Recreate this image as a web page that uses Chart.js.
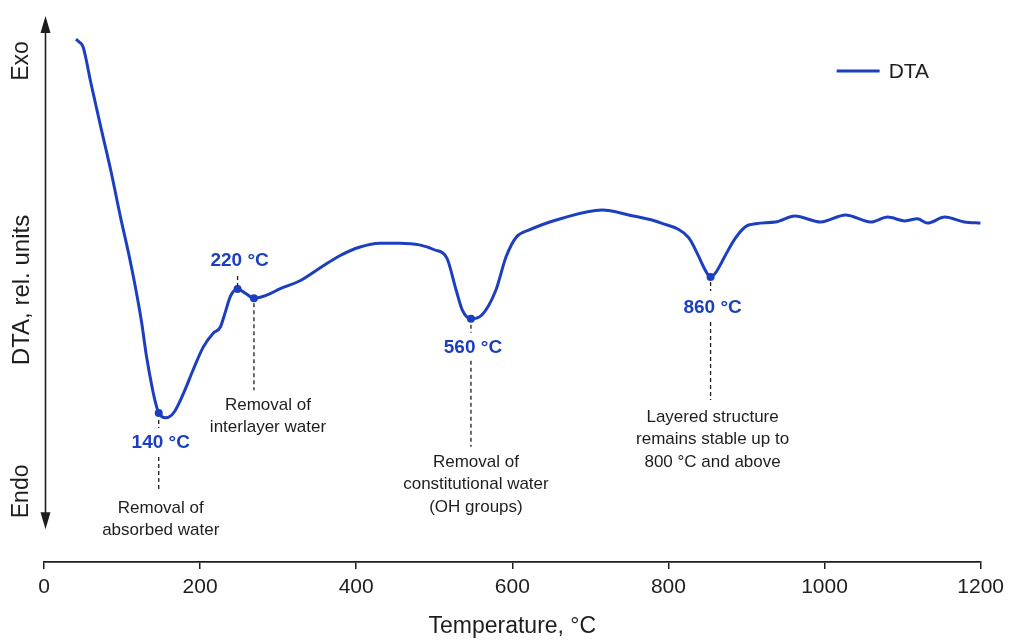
<!DOCTYPE html>
<html>
<head>
<meta charset="utf-8">
<script src="https://cdn.jsdelivr.net/npm/chart.js@4.4.1/dist/chart.umd.min.js"></script>
<style>
  html, body { margin: 0; padding: 0; background: #ffffff; }
  #wrap { width: 1010px; height: 640px; position: relative; }
</style>
</head>
<body>
<div id="wrap"><canvas id="c"></canvas></div>
<script>
// ---- data ----
const temps = [41,45,50,60,73,86,98,108,117,125,131,138,143,147,156,166,179,191,204,
  217,226,232,239,248,258,269,286,302,328,353,379,405,430,456,481,500,516,528,536,
  547,561,579,592,605,621,664,715,749,791,826,838,847,854,861,873,886,902,937,962,
  995,1027,1059,1081,1103,1119,1132,1154,1179,1200];
const dta = [96.1,95.6,94.7,88.1,79.8,71.7,63.4,57.0,50.6,44.1,38.1,32.5,29.2,27.4,26.5,27.4,31.1,35.3,39.5,
  42.1,43.2,45.8,48.9,50.2,49.4,48.5,49.1,50.2,51.7,54.0,56.3,57.9,58.6,58.6,58.3,57.4,55.9,50.0,46.3,
  44.7,45.4,50.0,56.1,59.7,61.0,63.2,64.7,63.8,62.3,59.6,56.4,53.7,52.4,53.3,56.4,59.6,61.9,62.5,63.6,
  62.5,63.8,62.5,63.4,62.7,63.1,62.3,63.4,62.5,62.3];
const markTemps = [147, 248, 269, 547, 854];
const markValues = [27.4, 50.2, 48.5, 44.7, 52.4];
const markLabels = ['140 °C', '220 °C', '', '560 °C', '860 °C'];
const markNotes = [
  ['Removal of', 'absorbed water'],
  [],
  ['Removal of', 'interlayer water'],
  ['Removal of', 'constitutional water', '(OH groups)'],
  ['Layered structure', 'remains stable up to', '800 °C and above']
];
const xTickValues = [0, 200, 400, 600, 800, 1000, 1200];
const seriesName = 'DTA';
const yTitle = 'DTA, rel. units';
const xTitle = 'Temperature, °C';
const exoLabel = 'Exo';
const endoLabel = 'Endo';

// ---- style ----
const BLUE = '#1c3fc0';
const INK = '#1e1e1e';
const FONT = '"Liberation Sans", Arial, Helvetica, sans-serif';

// layout of each annotation relative to its marker (pixels)
const annoLayout = [
  { labelDy: 30, dashes: [[7, 15], [44, 79]], noteDy: 95, noteDx: 2 },
  { labelDy: -28, dashes: [[-13, -3]], noteDy: 0, noteDx: 0 },
  { labelDy: 0, dashes: [[5, 92]], noteDy: 107, noteDx: 14 },
  { labelDy: 29, dashes: [[6, 14], [42, 128]], noteDy: 143, noteDx: 5 },
  { labelDy: 31, dashes: [[5, 14], [45, 123]], noteDy: 140, noteDx: 2 }
];

const decor = {
  id: 'decor',
  afterDatasetsDraw(chart) {
    const { ctx, chartArea, scales } = chart;
    const xs = scales.x, ys = scales.y;
    ctx.save();

    // y arrow
    const ax = chartArea.left + 1.5;
    const topY = chartArea.top - 2;
    const botY = ys.getPixelForValue(6);
    ctx.strokeStyle = INK; ctx.fillStyle = INK; ctx.lineWidth = 1.6;
    ctx.beginPath(); ctx.moveTo(ax, topY + 8); ctx.lineTo(ax, botY - 8); ctx.stroke();
    ctx.beginPath(); ctx.moveTo(ax, topY); ctx.lineTo(ax - 5, topY + 17); ctx.lineTo(ax + 5, topY + 17); ctx.closePath(); ctx.fill();
    ctx.beginPath(); ctx.moveTo(ax, botY); ctx.lineTo(ax - 5, botY - 17); ctx.lineTo(ax + 5, botY - 17); ctx.closePath(); ctx.fill();

    // y texts
    ctx.textAlign = 'center'; ctx.textBaseline = 'middle';
    const tx = 22;
    [[exoLabel, chartArea.top + 43, 23], [yTitle, chartArea.top + 272, 24], [endoLabel, botY - 38, 23]].forEach(([t, y, fs]) => {
      ctx.font = fs + 'px ' + FONT;
      ctx.save(); ctx.translate(tx, y); ctx.rotate(-Math.PI / 2); ctx.fillText(t, 0, 0); ctx.restore();
    });

    // annotations
    markTemps.forEach((t, i) => {
      const px = xs.getPixelForValue(t);
      const py = ys.getPixelForValue(markValues[i]);
      const L = annoLayout[i];
      ctx.strokeStyle = INK; ctx.lineWidth = 1.3; ctx.setLineDash([4, 3]);
      L.dashes.forEach(([a, b]) => {
        ctx.beginPath(); ctx.moveTo(px, py + a); ctx.lineTo(px, py + b); ctx.stroke();
      });
      ctx.setLineDash([]);
      if (markLabels[i]) {
        ctx.fillStyle = BLUE; ctx.font = 'bold 19px ' + FONT;
        ctx.textAlign = 'center'; ctx.textBaseline = 'middle';
        ctx.fillText(markLabels[i], px + 2, py + L.labelDy);
      }
      ctx.fillStyle = INK; ctx.font = '17px ' + FONT;
      ctx.textAlign = 'center'; ctx.textBaseline = 'middle';
      markNotes[i].forEach((line, k) => {
        ctx.fillText(line, px + L.noteDx, py + L.noteDy + k * 22.5);
      });
    });

    // legend
    const ds = chart.data.datasets[0];
    const lx = chartArea.right - 144, ly = chartArea.top + 53;
    ctx.strokeStyle = ds.borderColor; ctx.lineWidth = 3;
    ctx.beginPath(); ctx.moveTo(lx, ly); ctx.lineTo(lx + 43, ly); ctx.stroke();
    ctx.fillStyle = INK; ctx.font = '21px ' + FONT;
    ctx.textAlign = 'left'; ctx.textBaseline = 'middle';
    ctx.fillText(ds.label, lx + 52, ly + 1);
    ctx.restore();
  }
};

new Chart(document.getElementById('c'), {
  type: 'line',
  data: {
    datasets: [
      {
        label: seriesName,
        data: temps.map((t, i) => ({ x: t, y: dta[i] })),
        borderColor: BLUE,
        borderWidth: 3,
        pointRadius: 0,
        fill: false,
        cubicInterpolationMode: 'monotone'
      },
      {
        label: 'markers',
        data: markTemps.map((t, i) => ({ x: t, y: markValues[i] })),
        showLine: false,
        pointRadius: 4,
        pointBackgroundColor: BLUE,
        pointBorderColor: BLUE,
        pointBorderWidth: 0
      }
    ]
  },
  options: {
    responsive: true,
    maintainAspectRatio: false,
    devicePixelRatio: 1,
    animation: false,
    layout: { padding: { left: 44, right: 27, top: 18, bottom: 0 } },
    plugins: { legend: { display: false }, tooltip: { enabled: false } },
    scales: {
      x: {
        type: 'linear', min: 0, max: 1200,
        afterBuildTicks: (s) => { s.ticks = xTickValues.map(v => ({ value: v })); },
        afterFit: (s) => { s.height = 78; },
        ticks: {
          callback: (v) => String(v),
          color: INK, font: { size: 21, family: FONT }, padding: 6, maxRotation: 0
        },
        grid: { display: true, drawOnChartArea: false, drawTicks: true, tickLength: 7, color: INK, lineWidth: 1.5 },
        border: { display: true, color: INK, width: 1.8 },
        title: { display: true, text: xTitle, color: INK, font: { size: 23, family: FONT }, padding: { top: 0, bottom: 0 } }
      },
      y: { display: false, min: 0, max: 100 }
    }
  },
  plugins: [decor]
});
</script>
</body>
</html>
